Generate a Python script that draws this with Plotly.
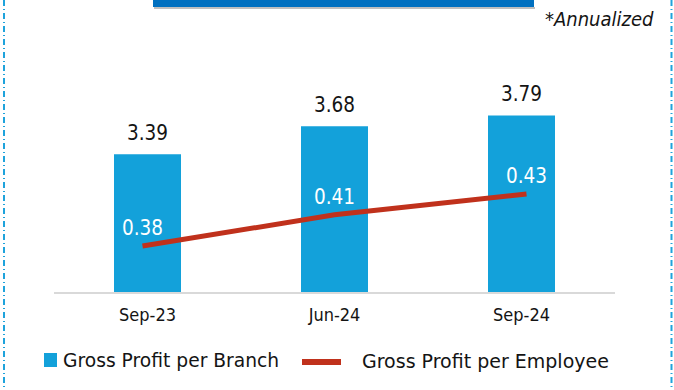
import plotly.graph_objects as go

# ---- data ----
periods = ["Sep-23", "Jun-24", "Sep-24"]
profit_per_branch = [3.39, 3.68, 3.79]
profit_per_employee = [0.38, 0.41, 0.43]
branch_label = "Gross Profit per Branch"
employee_label = "Gross Profit per Employee"
note_text = "*Annualized"

# ---- styling ----
BAR_COLOR = "#13A1DA"
LINE_COLOR = "#C0311C"
BANNER_COLOR = "#0070C0"
BORDER_COLOR = "#1FA3DC"
AXIS_COLOR = "#D9D9D9"
TEXT_COLOR = "#141414"
FONT = "DejaVu Sans Condensed, DejaVu Sans, sans-serif"
LEGEND_FONT = "DejaVu Sans, sans-serif"

W, H = 674, 390
L, R, T, B = 54, 615, 40, 292  # plot area edges in pixels


def px(x):
    """pixel column -> paper x"""
    return (x - L) / (R - L)


def py(y):
    """pixel row -> paper y"""
    return (B - y) / (B - T)


fig = go.Figure()

fig.add_trace(go.Bar(
    x=periods, y=profit_per_branch, name=branch_label,
    marker=dict(color=BAR_COLOR, line=dict(width=0)),
    showlegend=False, hoverinfo="x+y",
))

fig.add_trace(go.Scatter(
    x=periods, y=profit_per_employee, name=employee_label,
    mode="lines", line=dict(color=LINE_COLOR, width=5),
    xaxis="x2", yaxis="y2", showlegend=False, hoverinfo="x+y",
))

annotations = []
for p, v in zip(periods, profit_per_branch):
    annotations.append(dict(
        x=p, y=v, xref="x", yref="y", text=f"{v:.2f}", showarrow=False,
        yanchor="middle", yshift=21,
        font=dict(family=FONT, size=20.5, color=TEXT_COLOR),
    ))
for p, v in zip(periods, profit_per_employee):
    annotations.append(dict(
        x=p, y=v, xref="x2", yref="y2", text=f"{v:.2f}", showarrow=False,
        yanchor="middle", yshift=18,
        font=dict(family=FONT, size=20.5, color="white"),
    ))

# footnote
annotations.append(dict(
    x=px(656), y=py(19), xref="paper", yref="paper", text=f"<i>{note_text}</i>",
    showarrow=False, xanchor="right", yanchor="middle",
    font=dict(family=FONT, size=20, color=TEXT_COLOR),
))

# legend text
annotations.append(dict(
    x=px(61), y=py(360), xref="paper", yref="paper", text=branch_label,
    showarrow=False, xanchor="left", yanchor="middle",
    font=dict(family=LEGEND_FONT, size=18.7, color=TEXT_COLOR),
))
annotations.append(dict(
    x=px(360), y=py(361), xref="paper", yref="paper", text=employee_label,
    showarrow=False, xanchor="left", yanchor="middle",
    font=dict(family=LEGEND_FONT, size=19, color=TEXT_COLOR),
))

shapes = [
    # header banner with a soft shadow under it
    dict(type="line", xref="paper", yref="paper", x0=px(154), x1=px(535),
         y0=py(8), y1=py(8), line=dict(color="#BFBFBF", width=2)),
    dict(type="rect", xref="paper", yref="paper", x0=px(153), x1=px(534),
         y0=py(-5), y1=py(7), fillcolor=BANNER_COLOR, line=dict(width=0)),
    # dashed frame sides
    dict(type="line", xref="paper", yref="paper", x0=px(4), x1=px(4),
         y0=py(0), y1=py(H), line=dict(color=BORDER_COLOR, width=2, dash="6px,3px,1px,3px")),
    dict(type="line", xref="paper", yref="paper", x0=px(671.5), x1=px(671.5),
         y0=py(0), y1=py(H), line=dict(color=BORDER_COLOR, width=2, dash="6px,3px,1px,3px")),
    # legend keys
    dict(type="rect", xref="paper", yref="paper", x0=px(44), x1=px(57),
         y0=py(367), y1=py(353), fillcolor=BAR_COLOR, line=dict(width=0)),
    dict(type="line", xref="paper", yref="paper", x0=px(302), x1=px(341),
         y0=py(362), y1=py(362), line=dict(color=LINE_COLOR, width=6)),
]

y1_min, y1_scale = 1.97, 97.0      # value at baseline, px per unit
y2_min, y2_scale = 0.3358, 1040.0
ph = B - T

fig.update_layout(
    width=W, height=H, autosize=False,
    margin=dict(l=L, r=W - R, t=T, b=H - B, pad=0),
    paper_bgcolor="white", plot_bgcolor="white",
    bargap=1 - 67 / 187,
    showlegend=False,
    font=dict(family=FONT, color=TEXT_COLOR),
    xaxis=dict(
        type="category", range=[-0.5, 2.5], showgrid=False, zeroline=False,
        showline=True, linecolor=AXIS_COLOR, linewidth=2, ticks="",
        tickfont=dict(family=FONT, size=18, color=TEXT_COLOR),
        ticklabelstandoff=5, fixedrange=True,
    ),
    yaxis=dict(range=[y1_min, y1_min + ph / y1_scale], visible=False,
               showgrid=False, zeroline=False, fixedrange=True),
    xaxis2=dict(type="category", overlaying="x", range=[-0.461, 2.461],
                visible=False, showgrid=False, zeroline=False),
    yaxis2=dict(overlaying="y", range=[y2_min, y2_min + ph / y2_scale],
                visible=False, showgrid=False, zeroline=False),
    annotations=annotations,
    shapes=shapes,
)

fig.write_html("out.html")
